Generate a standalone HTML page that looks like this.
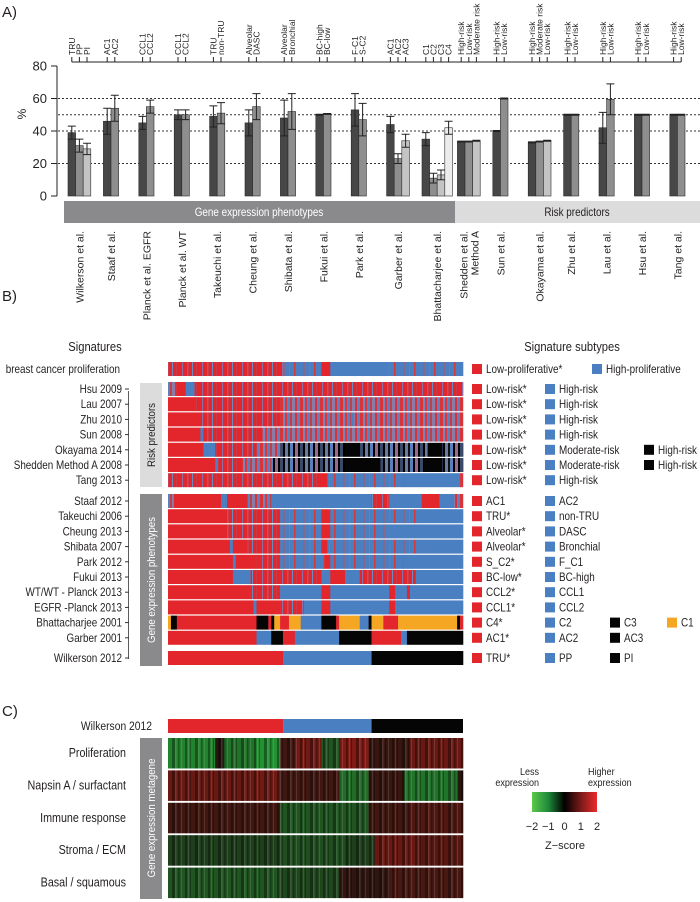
<!DOCTYPE html>
<html><head><meta charset="utf-8"><style>
html,body{margin:0;padding:0;background:#fff;}
svg{display:block;font-family:"Liberation Sans",sans-serif;}
</style></head><body>
<svg id="fig" width="700" height="902" viewBox="0 0 700 902" xmlns="http://www.w3.org/2000/svg">
<defs>
<pattern id="patP" patternUnits="userSpaceOnUse" width="20" height="14">
<rect width="20" height="14" fill="#e3262b"/><rect x="2" width="1" height="14" fill="#8a6fa8"/><rect x="7" width="1.5" height="14" fill="#b05570"/><rect x="12" width="1" height="14" fill="#6a8ac0"/><rect x="16" width="0.8" height="14" fill="#c04050"/></pattern>
<pattern id="patM" patternUnits="userSpaceOnUse" width="20" height="14">
<rect width="20" height="14" fill="#b05a78"/><rect x="0" width="3" height="14" fill="#d9343a"/><rect x="3" width="2" height="14" fill="#7a82b8"/><rect x="5" width="2" height="14" fill="#e0353a"/><rect x="7" width="3" height="14" fill="#5a80c0"/><rect x="10" width="2" height="14" fill="#c04048"/><rect x="12" width="3" height="14" fill="#8a7aa8"/><rect x="15" width="2" height="14" fill="#d83238"/><rect x="17" width="3" height="14" fill="#6080c0"/></pattern>
<pattern id="patQ" patternUnits="userSpaceOnUse" width="20" height="14">
<rect width="20" height="14" fill="#4a7fc1"/><rect x="3" width="1.5" height="14" fill="#c0505a"/><rect x="9" width="1" height="14" fill="#9a6a90"/><rect x="14" width="1.5" height="14" fill="#d03a3a"/></pattern>
<pattern id="patN" patternUnits="userSpaceOnUse" width="20" height="14">
<rect width="20" height="14" fill="#222"/><rect x="0" width="3" height="14" fill="#3a4a6a"/><rect x="3" width="2" height="14" fill="#000"/><rect x="5" width="3" height="14" fill="#6a7aa0"/><rect x="8" width="2" height="14" fill="#111"/><rect x="10" width="3" height="14" fill="#5a80c0"/><rect x="13" width="2" height="14" fill="#000"/><rect x="15" width="3" height="14" fill="#9a6a8a"/><rect x="18" width="2" height="14" fill="#000"/></pattern>
<pattern id="patS" patternUnits="userSpaceOnUse" width="23" height="40">
<rect x="1" width="2" height="40" fill="#000" fill-opacity="0.35"/><rect x="6" width="1" height="40" fill="#000" fill-opacity="0.3"/><rect x="11" width="3" height="40" fill="#000" fill-opacity="0.35"/><rect x="17" width="1.5" height="40" fill="#000" fill-opacity="0.3"/><rect x="4" width="1" height="40" fill="#fff" fill-opacity="0.12"/><rect x="14" width="1.5" height="40" fill="#fff" fill-opacity="0.12"/><rect x="20" width="1" height="40" fill="#fff" fill-opacity="0.12"/></pattern>
<linearGradient id="zgrad" x1="0" x2="1" y1="0" y2="0"><stop offset="0" stop-color="#5cc84a"/><stop offset="0.25" stop-color="#1f8a3a"/><stop offset="0.5" stop-color="#000"/><stop offset="0.75" stop-color="#7a1a1a"/><stop offset="1" stop-color="#ec2a2a"/></linearGradient>
</defs>
<g id="gA"></g>
<g id="gB"></g>
<g id="gC"></g>
</svg>
<script>
// ---------- Panel A data ----------
const groupNames = ['Wilkerson et al.','Staaf et al.','Planck et al. EGFR','Planck et al. WT','Takeuchi et al.','Cheung et al.','Shibata et al.','Fukui et al.','Park et al.','Garber et al.','Bhattacharjee et al.','Shedden et al.|Method A','Sun et al.','Okayama et al.','Zhu et al.','Lau et al.','Hsu et al.','Tang et al.'];
const subtypeLabels = [['TRU','PP','PI'],['AC1','AC2'],['CCL1','CCL2'],['CCL1','CCL2'],['TRU','non-TRU'],['Alveolar','DASC'],['Alveolar','Bronchial'],['BC-high','BC-low'],['F-C1','S-C2'],['AC1','AC2','AC3'],['C1','C2','C3','C4'],['High-risk','Low-risk','Moderate risk'],['High-risk','Low-risk'],['High-risk','Moderate risk','Low-risk'],['High-risk','Low-risk'],['High-risk','Low-risk'],['High-risk','Low-risk'],['High-risk','Low-risk']];
const barValues = [[39,31,29],[46,54],[45,55],[50,50],[49,51],[45,55],[48,52],[50,50.5],[53,47],[44,23,34],[35,11,13,42],[33.5,33.5,34],[40,60],[33,33.5,34],[50,50],[42,59.5],[50,50],[50,50]];
const barErrors = [[4,4,3.5],[8,8],[4,4],[3,3],[6.5,6.5],[8,8],[11,11],[0.3,0.3],[10,10],[5,3,4],[4,3,3,4],[0.3,0.3,0.3],[0.3,0.3],[0.3,0.3,0.3],[0.3,0.3],[9.5,9.5],[0.3,0.3],[0.3,0.3]];
const yTicks = [0,20,40,60,80];
const gridValues = [20,40,50,60];
const bandLabels = ['Gene expression phenotypes','Risk predictors'];

// ---------- Panel B data ----------
const sigNames = ['breast cancer proliferation','Hsu 2009','Lau 2007','Zhu 2010','Sun 2008','Okayama 2014','Shedden Method A 2008','Tang 2013','Staaf 2012','Takeuchi 2006','Cheung 2013','Shibata 2007','Park 2012','Fukui 2013','WT/WT - Planck 2013','EGFR -Planck 2013','Bhattacharjee 2001','Garber 2001','Wilkerson 2012'];
const sigGroup = [0,1,1,1,1,1,1,1,2,2,2,2,2,2,2,2,2,2,3];
const sigSegments = [
 [['P',0,39],['Q',39,52],['R',52,55],['B',55,75],['Q',75,100]],
 [['M',0,3],['R',3,6],['B',6,9],['P',9,100]],
 [['R',0,9],['P',9,38],['M',38,100]],
 [['R',0,10],['P',10,38],['M',38,62],['B',62,63],['M',63,100]],
 [['R',0,11],['B',11,12],['P',12,32],['M',32,100]],
 [['R',0,12],['B',12,16],['P',16,30],['M',30,38],['N',38,60],['K',60,65],['N',65,88],['K',88,93],['N',93,100]],
 [['R',0,16],['B',16,17],['P',17,25],['M',25,35],['N',35,60],['K',60,72],['N',72,87],['K',87,93],['N',93,100]],
 [['P',0,30],['P',30,52],['R',52,54],['Q',54,80],['B',80,99],['M',99,100]],
 [['M',0,2],['R',2,18],['B',18,20],['R',20,27],['M',27,35],['B',35,69],['P',69,75],['B',75,86],['R',86,92],['B',92,97],['M',97,100]],
 [['R',0,20],['P',20,38],['Q',38,52],['R',52,55],['Q',55,86],['B',86,100]],
 [['R',0,20],['P',20,38],['Q',38,52],['R',52,55],['Q',55,75],['B',75,100]],
 [['R',0,21],['B',21,22],['R',22,27],['P',27,38],['Q',38,52],['R',52,54],['Q',54,85],['B',85,100]],
 [['R',0,22],['B',22,23],['R',23,30],['P',30,38],['Q',38,53],['R',53,55],['Q',55,80],['B',80,100]],
 [['R',0,22],['B',22,28],['P',28,52],['B',52,55],['R',55,60],['B',60,65],['P',65,84],['B',84,100]],
 [['R',0,28],['P',28,38],['B',38,52],['R',52,55],['B',55,75],['R',75,77],['B',77,81],['R',81,82],['B',82,100]],
 [['R',0,29],['B',29,30],['R',30,38],['P',38,46],['B',46,52],['R',52,55],['B',55,75],['R',75,77],['B',77,100]],
 [['O',0,1],['K',1,3],['R',3,30],['K',30,34],['R',34,35],['K',35,36],['O',36,38],['R',38,41],['O',41,45],['B',45,52],['K',52,57],['R',57,58],['O',58,65],['B',65,68],['K',68,69],['O',69,73],['R',73,78],['O',78,80],['O',80,98],['K',98,99],['R',99,100]],
 [['R',0,30],['B',30,35],['K',35,39],['R',39,43],['B',43,58],['K',58,69],['R',69,79],['B',79,81],['K',81,100]],
 [['R',0,39],['B',39,69],['K',69,100]]
];
const legendLabels = [
 [['R','Low-proliferative*'],['B','High-proliferative']],
 [['R','Low-risk*'],['B','High-risk']],[['R','Low-risk*'],['B','High-risk']],[['R','Low-risk*'],['B','High-risk']],[['R','Low-risk*'],['B','High-risk']],
 [['R','Low-risk*'],['B','Moderate-risk'],['K','High-risk']],[['R','Low-risk*'],['B','Moderate-risk'],['K','High-risk']],[['R','Low-risk*'],['B','High-risk']],
 [['R','AC1'],['B','AC2']],[['R','TRU*'],['B','non-TRU']],[['R','Alveolar*'],['B','DASC']],[['R','Alveolar*'],['B','Bronchial']],[['R','S_C2*'],['B','F_C1']],[['R','BC-low*'],['B','BC-high']],[['R','CCL2*'],['B','CCL1']],[['R','CCL1*'],['B','CCL2']],
 [['R','C4*'],['B','C2'],['K','C3'],['O','C1']],[['R','AC1*'],['B','AC2'],['K','AC3']],[['R','TRU*'],['B','PP'],['K','PI']]
];

// ---------- Panel C data ----------
const metageneNames = ['Proliferation','Napsin A / surfactant','Immune response','Stroma / ECM','Basal / squamous'];
const metageneSegments = [
 [[0,16,-1.2],[16,19,0],[19,30,-1],[30,38,-1.4],[38,43,0.3],[43,52,0.9],[52,58,-0.6],[58,68,1.1],[68,82,0.2],[82,100,0.8]],
 [[0,30,0.8],[30,38,0.9],[38,58,0.3],[58,68,-0.9],[68,80,0.2],[80,98,-1],[98,100,0]],
 [[0,38,0.3],[38,68,-0.6],[68,82,0.3],[82,100,0.5]],
 [[0,38,-0.3],[38,60,-0.5],[60,70,-0.3],[70,85,0.8],[85,100,0.6]],
 [[0,38,-0.6],[38,58,-0.4],[58,75,0.1],[75,100,0.4]]
];
const wilkersonSegments = [['R',0,39],['B',39,69],['K',69,100]];
const zTicks = [-2,-1,0,1,2];

// ---------- helpers ----------
const NS='http://www.w3.org/2000/svg';
function mk(tag,attrs,parent){const e=document.createElementNS(NS,tag);for(const k in attrs)e.setAttribute(k,attrs[k]);parent.appendChild(e);return e;}
function txt(str,attrs,parent){const e=mk('text',attrs,parent);e.textContent=str;return e;}
// condensed text (narrower font look)
function ctxt(str,x,y,size,anchor,fill,parent){const e=mk('text',{x:0,y:0,'font-size':size,'text-anchor':anchor,fill:fill,transform:`translate(${x},${y}) scale(0.86,1)`},parent);e.textContent=str;return e;}
const TC='#231f20';
const fillMap={R:'#e3262b',B:'#4a7fc1',K:'#050505',O:'#f5a623',P:'url(#patP)',M:'url(#patM)',Q:'url(#patQ)',N:'url(#patN)'};

// ---------- Panel A ----------
const gA=document.getElementById('gA');
const Y0=196,Y80=66;
const yA=v=>Y0-(v/80)*(Y0-Y80);
const BW=7.6;
const gx=i=>68+i*35.4;
let t=txt('A)',{x:2,y:17,'font-size':15,fill:TC},gA);

gridValues.forEach(v=>{const l=mk('line',{x1:58,x2:700,y1:yA(v),y2:yA(v),stroke:'#333','stroke-width':1,'stroke-dasharray':'2,2'},gA);
});
let ax=mk('line',{x1:57,x2:57,y1:Y80,y2:Y0,stroke:'#222','stroke-width':1},gA);

yTicks.forEach(v=>{const l=mk('line',{x1:51,x2:57,y1:yA(v),y2:yA(v),stroke:'#222'},gA);

const tt=txt(String(v),{x:47,y:yA(v)+4.5,'font-size':13,'text-anchor':'end',fill:TC},gA);
});
t=txt('%',{x:0,y:0,'font-size':12,'text-anchor':'middle',fill:TC,transform:'translate(26,114) rotate(-90)'},gA);

let bl=mk('line',{x1:gx(0)+BW/2,x2:gx(17)+BW*1.5,y1:62,y2:62,stroke:'#222'},gA);

const shades=['#474747','#8e8e8e','#c4c4c4','#ececec'];
barValues.forEach((vals,i)=>{
 vals.forEach((v,j)=>{
  const x=gx(i)+j*BW;
  const r=mk('rect',{x:x,y:yA(v),width:BW,height:Y0-yA(v),fill:shades[j],stroke:'#2a2a2a','stroke-width':0.6},gA);
  
  
  const e=barErrors[i][j],cx=x+BW/2;
  const eg=mk('path',{d:`M${cx},${yA(v+e)}V${yA(v-e)}M${cx-4},${yA(v+e)}H${cx+4}M${cx-4},${yA(v-e)}H${cx+4}`,stroke:'#222','stroke-width':1,fill:'none'},gA);
  
  const tk=mk('line',{x1:cx,x2:cx,y1:57,y2:62,stroke:'#222'},gA);
  
  const sl=txt(subtypeLabels[i][j],{x:0,y:0,'font-size':8.5,fill:TC,transform:`translate(${cx+3},55) rotate(-90)`},gA);
  
 });
 const gc=gx(i)+vals.length*BW/2;
 const parts=groupNames[i].split('|');
 parts.forEach((p,k)=>{
  const off=(k-(parts.length-1)/2)*11;
  const gl=txt(p,{x:0,y:0,'font-size':10.5,'text-anchor':'end',fill:TC,transform:`translate(${gc+4+off},231) rotate(-90)`},gA);
  
 });
});
let b1=mk('rect',{x:64,y:201,width:391,height:22,fill:'#8a8a8c'},gA);

let b2=mk('rect',{x:455,y:201,width:245,height:22,fill:'#dcdcdd'},gA);

t=ctxt(bandLabels[0],259,216,11.5,'middle','#fff',gA);

t=ctxt(bandLabels[1],577,216,11.5,'middle',TC,gA);


// ---------- Panel B ----------
const gB=document.getElementById('gB');
const HX0=168,HX1=463,HW=HX1-HX0;
const hx=p=>HX0+p/100*HW;
function rowTop(i){const g=sigGroup[i];if(g===0)return 362;if(g===1)return 382+(i-1)*15.2;if(g===2)return 494+(i-8)*15.2;return 651;}
t=txt('B)',{x:2,y:301,'font-size':15,fill:TC},gB);
t=ctxt('Signatures',95,351,13,'middle',TC,gB);
t=ctxt('Signature subtypes',572,351,13,'middle',TC,gB);
let rb=mk('rect',{x:140,y:383,width:22,height:104,fill:'#dcdcdd'},gB);
t=txt('Risk predictors',{x:0,y:0,'font-size':11,'text-anchor':'middle',fill:TC,transform:'translate(155,435) rotate(-90) scale(0.88,1)'},gB);
let gbx=mk('rect',{x:140,y:494,width:22,height:172,fill:'#8a8a8c'},gB);
t=txt('Gene expression phenotypes',{x:0,y:0,'font-size':11,'text-anchor':'middle',fill:'#fff',transform:'translate(155,580) rotate(-90) scale(0.88,1)'},gB);
let vl=mk('line',{x1:128.5,x2:128.5,y1:391,y2:659,stroke:'#333','stroke-width':0.8},gB);
const legX=[472,545,610,667];
sigNames.forEach((name,i)=>{
 const y=rowTop(i);
 const isP=sigGroup[i]===0;
 const lab=ctxt(name,isP?120:122,y+11,11.5,'end',TC,gB);
 
 if(!isP){const tk=mk('line',{x1:125,x2:129,y1:y+7,y2:y+7,stroke:'#333'},gB);}
 sigSegments[i].forEach(s=>{
  const r=mk('rect',{x:hx(s[1]),y:y,width:hx(s[2])-hx(s[1])+0.3,height:14,fill:fillMap[s[0]]},gB);
  
 });
 legendLabels[i].forEach((l,k)=>{
  let lx=legX[k];
  if(isP&&k===1)lx=592;
  if(l[1]==='High-risk'&&l[0]==='K')lx=644;
  const sq=mk('rect',{x:lx,y:y+2,width:10,height:10,fill:fillMap[l[0]]},gB);
  
  const lt=ctxt(l[1],lx+14,y+11,11.5,'start',TC,gB);
  
 });
});

// ---------- Panel C ----------
const gC=document.getElementById('gC');
t=txt('C)',{x:2,y:716,'font-size':15,fill:TC},gC);
t=ctxt('Wilkerson 2012',152,730,12,'end',TC,gC);
wilkersonSegments.forEach(s=>{const r=mk('rect',{x:hx(s[1]),y:719,width:hx(s[2])-hx(s[1]),height:14,fill:fillMap[s[0]]},gC);
});
let mb=mk('rect',{x:140,y:738,width:22,height:161,fill:'#8a8a8c'},gC);
t=txt('Gene expression metagene',{x:0,y:0,'font-size':11,'text-anchor':'middle',fill:'#fff',transform:'translate(155,818) rotate(-90) scale(0.88,1)'},gC);
function zcol(z){if(z>=0){return `rgb(${Math.round(40+z*80)},${Math.round(22+z*4)},${Math.round(16+z*4)})`;}const a=-z;return `rgb(${Math.round(30+a*4)},${Math.round(40+a*75)},${Math.round(22+a*20)})`;}
metageneNames.forEach((name,i)=>{
 const y=738+i*32.4;
 const lab=ctxt(name,126,y+19,12.5,'end',TC,gC);
 
 metageneSegments[i].forEach(s=>{const r=mk('rect',{x:hx(s[0]),y:y,width:hx(s[1])-hx(s[0])+0.3,height:30.5,fill:zcol(s[2])},gC);
 });
 const ov=mk('rect',{x:HX0,y:y,width:HW,height:30.5,fill:'url(#patS)'},gC);
 
});
const ZX0=532,ZX1=597;const zx=z=>ZX0+(z+2)/4*(ZX1-ZX0);
let gr=mk('rect',{x:ZX0,y:792,width:ZX1-ZX0,height:20,fill:'url(#zgrad)'},gC);
zTicks.forEach(z=>{const tt=txt(z<0?'\u2212'+(-z):String(z),{x:zx(z),y:830,'font-size':11,'text-anchor':'middle',fill:TC},gC);
});
t=txt('Z\u2212score',{x:565,y:849,'font-size':11,'text-anchor':'middle',fill:TC},gC);
t=ctxt('Less',539,775,10.5,'end',TC,gC);
t=ctxt('expression',539,786,10.5,'end',TC,gC);
t=ctxt('Higher',588,775,10.5,'start',TC,gC);
t=ctxt('expression',588,786,10.5,'start',TC,gC);
</script>
</body></html>
